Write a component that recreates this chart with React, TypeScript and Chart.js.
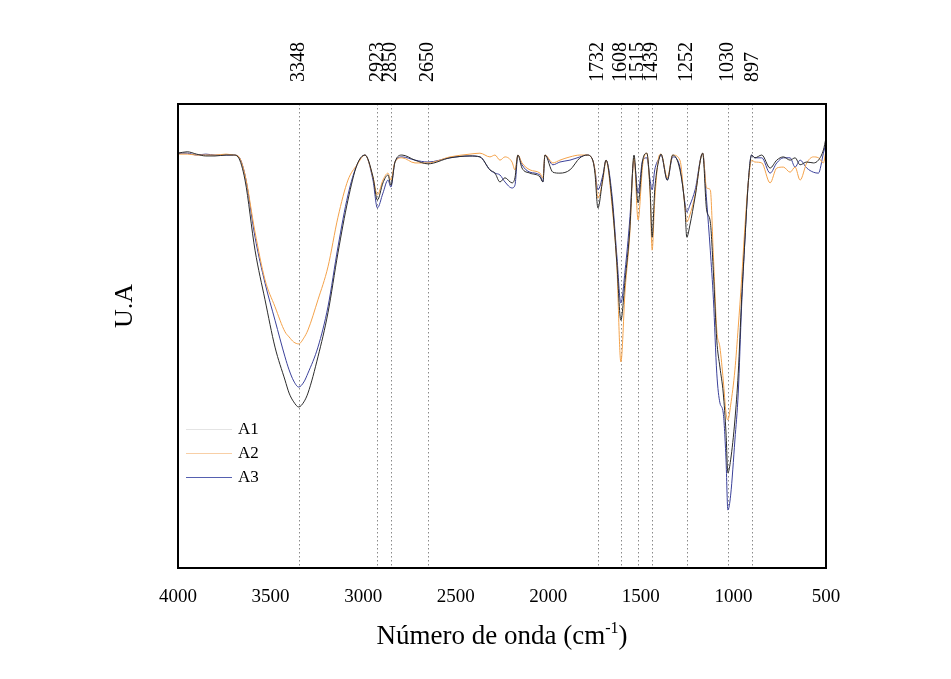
import React, { useEffect, useRef } from "react";
import { Chart, registerables } from "chart.js";
Chart.register(...registerables);

const wavenumbers = [4000, 3950, 3900, 3850, 3800, 3740, 3700, 3676, 3638, 3584, 3530, 3476, 3422, 3400, 3375, 3348, 3320, 3298, 3244, 3190, 3136, 3082, 3033, 2990, 2947, 2923, 2893, 2866, 2850, 2828, 2790, 2720, 2650, 2531, 2423, 2369, 2315, 2288, 2261, 2234, 2196, 2180, 2164, 2142, 2099, 2045, 2029, 2018, 1975, 1937, 1883, 1829, 1790, 1760, 1748, 1732, 1705, 1688, 1656, 1630, 1608, 1585, 1560, 1537, 1515, 1490, 1468, 1450, 1439, 1425, 1400, 1391, 1357, 1328, 1289, 1262, 1252, 1235, 1207, 1166, 1145, 1125, 1108, 1090, 1073, 1055, 1040, 1030, 1015, 992, 974, 956, 938, 920, 902, 884, 847, 802, 766, 730, 694, 667, 640, 604, 568, 541, 514, 500];

const a1 = [89.4, 89.7, 89.2, 88.8, 88.8, 89.0, 89.0, 88.6, 83.6, 68.5, 57.8, 47.6, 40.5, 37.7, 35.8, 34.7, 35.8, 37.7, 45.5, 55.0, 67.9, 79.3, 86.9, 89.0, 84.3, 79.3, 83.0, 84.7, 82.5, 87.5, 89.0, 87.9, 87.1, 88.4, 88.8, 88.6, 85.8, 85.1, 83.2, 84.1, 83.0, 84.1, 89.0, 86.2, 85.1, 84.3, 83.2, 89.0, 85.3, 85.1, 85.8, 88.4, 89.0, 87.9, 85.1, 77.6, 84.1, 87.9, 79.3, 65.9, 53.4, 62.1, 72.8, 89.0, 78.7, 87.9, 89.4, 81.5, 71.3, 81.5, 88.4, 89.2, 83.6, 89.0, 85.8, 77.8, 71.3, 73.9, 80.0, 89.4, 77.2, 74.6, 63.6, 49.1, 43.3, 37.7, 29.1, 20.5, 23.3, 31.9, 42.0, 57.8, 70.7, 83.0, 89.0, 88.4, 89.0, 86.2, 87.9, 88.6, 87.9, 88.4, 86.9, 87.5, 87.3, 87.9, 90.1, 92.7];

const a2 = [89.2, 89.2, 89.0, 89.0, 89.0, 89.2, 89.0, 88.8, 84.7, 72.4, 62.1, 56.3, 50.9, 49.8, 48.7, 48.3, 49.6, 51.3, 57.8, 64.9, 75.6, 83.6, 86.9, 89.0, 84.3, 80.4, 83.6, 85.1, 83.6, 87.5, 88.4, 87.3, 87.3, 88.6, 89.2, 89.4, 88.6, 89.0, 87.9, 88.6, 87.5, 85.8, 89.0, 87.3, 85.8, 85.1, 84.1, 89.0, 87.3, 87.9, 88.6, 89.0, 89.0, 87.9, 85.8, 79.7, 83.6, 87.9, 78.2, 65.3, 44.4, 59.9, 71.8, 88.4, 75.0, 86.9, 89.4, 80.4, 68.5, 79.3, 89.0, 89.2, 84.1, 89.0, 87.9, 77.8, 74.6, 76.1, 80.4, 89.4, 81.9, 81.5, 67.0, 51.3, 47.6, 40.5, 33.4, 31.9, 35.1, 42.7, 51.9, 62.1, 73.5, 83.0, 87.9, 87.5, 87.3, 83.0, 86.2, 86.4, 85.3, 86.4, 83.6, 87.3, 88.6, 88.4, 87.3, 90.1];

const a3 = [89.4, 89.4, 89.0, 89.2, 89.0, 89.0, 89.0, 88.8, 84.7, 71.3, 61.4, 53.4, 45.5, 42.7, 40.3, 39.0, 40.1, 42.0, 47.6, 56.3, 69.2, 80.4, 86.9, 89.0, 83.6, 77.6, 80.8, 83.6, 82.1, 87.5, 88.6, 87.9, 87.5, 88.4, 88.8, 88.6, 85.8, 85.1, 84.7, 83.2, 81.9, 82.5, 89.0, 86.9, 85.3, 84.7, 83.2, 89.0, 86.9, 87.5, 87.9, 88.6, 89.0, 87.9, 85.8, 81.5, 84.7, 87.9, 80.4, 67.5, 57.1, 64.2, 75.0, 87.9, 80.8, 87.9, 88.4, 83.6, 81.5, 85.8, 88.4, 89.0, 83.6, 88.6, 86.4, 78.7, 76.7, 78.2, 81.5, 89.4, 79.3, 68.5, 57.8, 42.0, 35.6, 33.4, 23.3, 12.5, 15.7, 27.6, 37.7, 56.3, 70.7, 83.0, 89.0, 88.4, 88.4, 85.1, 87.3, 88.4, 88.4, 86.4, 87.9, 86.2, 85.3, 85.1, 89.4, 91.6];

const seriesNames = ["A1", "A2", "A3"];
const seriesColors = ["#2b2b2b", "#f4a24a", "#3b419a"];
const legendColors = ["#e4e4e4", "#f8cfa6", "#5560b0"];
const bandPositions = [3348, 2923, 2850, 2650, 1732, 1608, 1515, 1439, 1252, 1030, 897];
const xTickValues = [4000, 3500, 3000, 2500, 2000, 1500, 1000, 500];
const xTitleMain = "Número de onda (cm";
const xTitleSup = "-1";
const xTitleEnd = ")";
const yTitle = "U.A";

const FONT = '"Liberation Serif", "Times New Roman", serif';

const decorPlugin = {
  id: "decor",
  beforeDatasetsDraw(chart: any) {
    const { ctx, chartArea, scales } = chart;
    const xs = scales.x;
    ctx.save();
    ctx.strokeStyle = "#8a8a8a";
    ctx.lineWidth = 1;
    ctx.setLineDash([1.5, 2.5]);
    bandPositions.forEach((b) => {
      const x = Math.round(xs.getPixelForValue(b)) + 0.5;
      ctx.beginPath();
      ctx.moveTo(x, chartArea.top);
      ctx.lineTo(x, chartArea.bottom);
      ctx.stroke();
    });
    ctx.restore();
  },
  afterDraw(chart: any) {
    const { ctx, chartArea, scales } = chart;
    const xs = scales.x;
    ctx.save();
    // frame
    ctx.strokeStyle = "#000";
    ctx.lineWidth = 2;
    ctx.strokeRect(chartArea.left, chartArea.top, chartArea.right - chartArea.left, chartArea.bottom - chartArea.top);
    // band labels
    ctx.fillStyle = "#000";
    ctx.font = `20px ${FONT}`;
    ctx.textAlign = "left";
    ctx.textBaseline = "middle";
    bandPositions.forEach((b) => {
      const x = xs.getPixelForValue(b);
      ctx.save();
      ctx.translate(x, chartArea.top - 22);
      ctx.rotate(-Math.PI / 2);
      ctx.fillText(String(b), 0, 0);
      ctx.restore();
    });
    // legend
    ctx.font = `17px ${FONT}`;
    ctx.textBaseline = "middle";
    seriesNames.forEach((n, i) => {
      const y = chartArea.top + 325 + i * 24;
      ctx.strokeStyle = legendColors[i];
      ctx.lineWidth = 1;
      ctx.beginPath();
      ctx.moveTo(chartArea.left + 8, y + 0.5);
      ctx.lineTo(chartArea.left + 54, y + 0.5);
      ctx.stroke();
      ctx.fillStyle = "#000";
      ctx.fillText(n, chartArea.left + 60, y + 1);
    });
    // x title
    const big = `27px ${FONT}`;
    const small = `16px ${FONT}`;
    ctx.font = big;
    const w1 = ctx.measureText(xTitleMain).width;
    const w3 = ctx.measureText(xTitleEnd).width;
    ctx.font = small;
    const w2 = ctx.measureText(xTitleSup).width;
    const total = w1 + w2 + w3;
    const cx = (chartArea.left + chartArea.right) / 2;
    const ty = 636;
    const x0 = cx - total / 2;
    ctx.textAlign = "left";
    ctx.textBaseline = "alphabetic";
    ctx.font = big;
    ctx.fillText(xTitleMain, x0, ty);
    ctx.font = small;
    ctx.fillText(xTitleSup, x0 + w1, ty - 11);
    ctx.font = big;
    ctx.fillText(xTitleEnd, x0 + w1 + w2, ty);
    // y title
    ctx.save();
    ctx.translate(117, (chartArea.top + chartArea.bottom) / 2 - 30);
    ctx.rotate(-Math.PI / 2);
    ctx.textAlign = "center";
    ctx.textBaseline = "middle";
    ctx.font = `26px ${FONT}`;
    ctx.fillText(yTitle, 0, 0);
    ctx.restore();
    ctx.restore();
  },
};

export default function App() {
  const ref = useRef<HTMLCanvasElement | null>(null);
  useEffect(() => {
    if (!ref.current) return;
    const seriesValues = [a1, a2, a3];
    const chart = new Chart(ref.current, {
      type: "line",
      data: {
        datasets: seriesNames.map((n, i) => ({
          label: n,
          data: wavenumbers.map((w, j) => ({ x: w, y: seriesValues[i][j] })),
          borderColor: seriesColors[i],
          borderWidth: 1,
          pointRadius: 0,
          fill: false,
          cubicInterpolationMode: "monotone" as const,
        })),
      },
      options: {
        animation: false,
        responsive: true,
        maintainAspectRatio: false,
        layout: { padding: { left: 170, right: 117, top: 96, bottom: 53 } },
        plugins: { legend: { display: false }, tooltip: { enabled: false } },
        scales: {
          x: {
            type: "linear",
            reverse: true,
            min: 500,
            max: 4000,
            afterBuildTicks: (s: any) => {
              s.ticks = xTickValues.map((v) => ({ value: v }));
            },
            afterFit: (s: any) => {
              s.height = 50;
            },
            grid: { display: false, drawTicks: false },
            border: { display: false },
            ticks: {
              autoSkip: false,
              maxRotation: 0,
              padding: 18,
              color: "#000",
              font: { family: FONT, size: 19 },
              callback: (v: any) => String(v),
            },
          },
          y: {
            display: false,
            min: 0,
            max: 100,
          },
        },
      },
      plugins: [decorPlugin],
    });
    return () => chart.destroy();
  }, []);
  return (
    <div style={{ width: 935, height: 663, position: "relative" }}>
      <canvas ref={ref} />
    </div>
  );
}
